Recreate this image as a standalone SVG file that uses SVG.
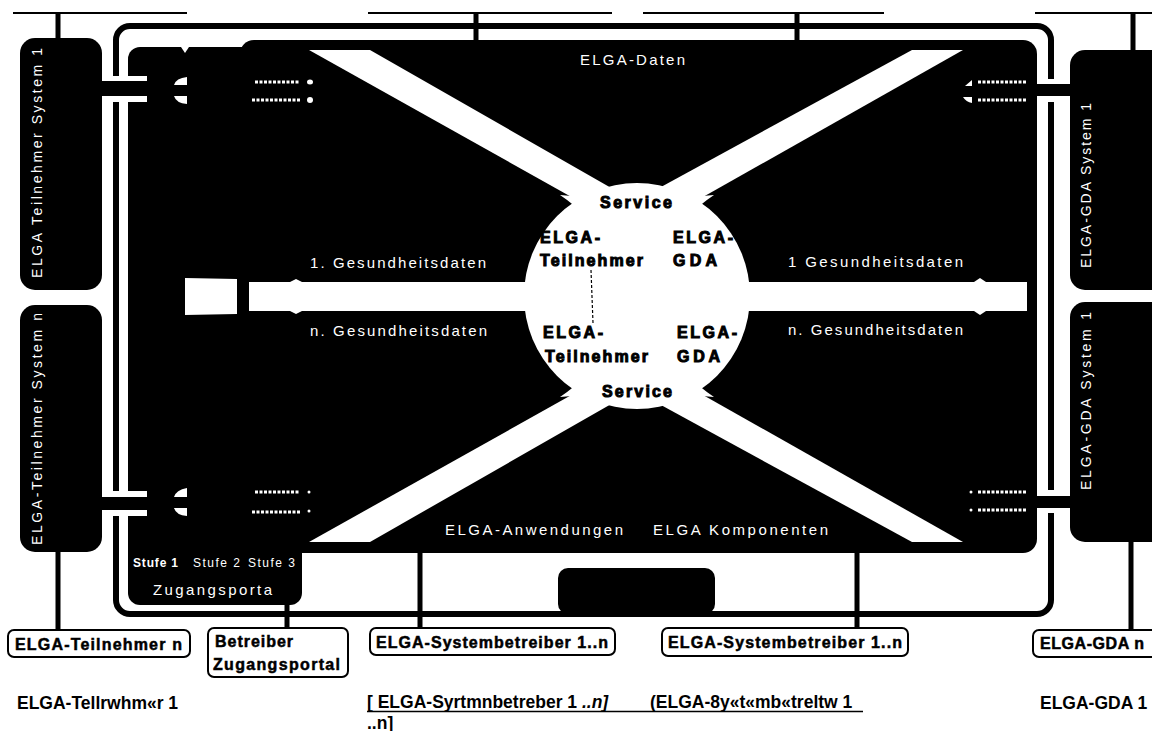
<svg xmlns="http://www.w3.org/2000/svg" width="1152" height="731" viewBox="0 0 1152 731">
<style>
.blk{fill:#000}
.wht{fill:#fff}
.lt{font-family:"Liberation Sans",Arial,sans-serif;font-size:15px;fill:#fff}
.rt{font-family:"Liberation Sans",Arial,sans-serif;font-size:14px;fill:#fff}
.st{font-family:"Liberation Sans",Arial,sans-serif;font-size:12px;fill:#fff}
.ct{font-family:"Liberation Sans",Arial,sans-serif;font-size:16px;font-weight:bold;fill:#000;stroke:#000;stroke-width:1}
.bx{fill:#fff;stroke:#000;stroke-width:2}
.bt{font-family:"Liberation Sans",Arial,sans-serif;font-size:16px;font-weight:bold;fill:#000;stroke:#000;stroke-width:0.5}
.ocr{font-family:"Liberation Sans",Arial,sans-serif;font-size:17.5px;font-weight:bold;fill:#000}
.scr{stroke:#fff;stroke-width:3;stroke-dasharray:3 1.5;fill:none}
</style>
<rect width="1152" height="731" fill="#fff"/>

<g id="frame">
<rect x="116" y="26" width="935" height="588" rx="14" fill="none" stroke="#000" stroke-width="6"/>
</g>

<g id="elga-core">
<rect class="blk" x="128" y="47" width="174" height="558" rx="12"/>
<rect class="blk" x="240" y="40" width="797" height="513" rx="14"/>
<path class="wht" d="M181,47 L189,47 L185,53 Z"/>
<g class="wht">
<circle cx="637" cy="296" r="113"/>
<polygon points="309,50 370,50 620,193 600,213"/>
<polygon points="912,50 963,50 680,210 650,193"/>
<polygon points="309,542 370,542 620,399 600,379"/>
<polygon points="912,542 963,542 680,382 650,399"/>
<path d="M560,195 Q590,215 600,240 L620,200 Z"/>
<path d="M714,195 Q684,215 674,240 L654,200 Z"/>
<path d="M560,397 Q590,377 600,352 L620,392 Z"/>
<path d="M714,397 Q684,377 674,352 L654,392 Z"/>
<rect x="249" y="282" width="778" height="29"/>
<polygon points="185,278 237,279 237,314 185,315"/>
<polygon points="290,282 296,279 302,282"/>
<polygon points="290,311 296,314 302,311"/>
<polygon points="974,282 980,278 986,282"/>
<polygon points="974,311 980,315 986,311"/>
</g>
<line x1="591" y1="270" x2="593" y2="323" stroke="#000" stroke-width="1.2" stroke-dasharray="3 2"/>
<text class="lt" x="580" y="65" textLength="105">ELGA-Daten</text>
<text class="lt" x="310" y="268" textLength="176">1. Gesundheitsdaten</text>
<text class="lt" x="310" y="336" textLength="177">n. Gesundheitsdaten</text>
<text class="lt" x="788" y="267" textLength="175">1 Gesundheitsdaten</text>
<text class="lt" x="788" y="335" textLength="175">n. Gesundheitsdaten</text>
<text class="lt" x="445" y="535" textLength="178">ELGA-Anwendungen</text>
<text class="lt" x="653" y="535" textLength="175">ELGA Komponenten</text>
<text class="st" y="567"><tspan x="133" font-weight="bold" textLength="45">Stufe 1</tspan><tspan x="193" textLength="47">Stufe 2</tspan><tspan x="248" textLength="47">Stufe 3</tspan></text>
<text class="lt" x="153" y="595" textLength="119">Zugangsporta</text>
<text class="ct" x="600" y="208" textLength="72">Service</text>
<text class="ct" x="540" y="243" textLength="60">ELGA-</text>
<text class="ct" x="540" y="266" textLength="103">Teilnehmer</text>
<text class="ct" x="673" y="243" textLength="60">ELGA-</text>
<text class="ct" x="673" y="266" textLength="44">GDA</text>
<text class="ct" x="543" y="338" textLength="60">ELGA-</text>
<text class="ct" x="545" y="362" textLength="103">Teilnehmer</text>
<text class="ct" x="677" y="338" textLength="60">ELGA-</text>
<text class="ct" x="677" y="362" textLength="43">GDA</text>
<text class="ct" x="602" y="397" textLength="70">Service</text>
<g class="wht">
<path d="M174,85 Q176,78 187,77 L187,85 Z"/>
<path d="M174,96 L187,96 L187,104 Q176,103 174,96 Z"/>
<path d="M174,497 Q176,490 187,488 L187,497 Z"/>
<path d="M174,508 L187,508 L187,516 Q176,515 174,508 Z"/>
<path d="M965,86 L972,80 L972,86 Z"/>
<path d="M963,97 L972,97 L972,103 Q966,102 963,97 Z"/>
<ellipse cx="310" cy="82" rx="3" ry="2.5"/>
<ellipse cx="310" cy="100" rx="3" ry="3"/>
<ellipse cx="309" cy="492" rx="1.5" ry="1.5"/>
<ellipse cx="309" cy="511" rx="1.5" ry="1.5"/>
<ellipse cx="971" cy="492" rx="1.5" ry="1.5"/>
<ellipse cx="971" cy="510" rx="1.5" ry="1.5"/>
</g>
<path class="scr" d="M255,82H300M252,100H300M255,492H300M252,512H300M978,82H1027M978,100H1027M978,492H1027M978,510H1027"/>
</g>

<g id="node-tn-system-1">
<rect class="blk" x="20" y="38" width="82" height="252" rx="15"/>
<text class="rt" transform="translate(42,278) rotate(-90)" x="0" y="0" textLength="230">ELGA Teilnehmer System 1</text>
</g>
<g id="node-tn-system-n">
<rect class="blk" x="20" y="305" width="82" height="247" rx="15"/>
<text class="rt" transform="translate(42,545) rotate(-90)" x="0" y="0" textLength="232">ELGA-Teilnehmer System n</text>
</g>
<g id="node-gda-system-1">
<rect class="blk" x="1070" y="50" width="100" height="240" rx="15"/>
<text class="rt" transform="translate(1091,268) rotate(-90)" x="0" y="0" textLength="165">ELGA-GDA System 1</text>
</g>
<g id="node-gda-system-2">
<rect class="blk" x="1070" y="302" width="100" height="240" rx="15"/>
<text class="rt" transform="translate(1091,490) rotate(-90)" x="0" y="0" textLength="178">ELGA-GDA System 1</text>
</g>
<g id="node-small-block">
<rect class="blk" x="558" y="568" width="157" height="46" rx="10"/>
</g>

<g id="connectors">
<path d="M13,13H187M368,13H612M643,13H884M1035,13H1152" stroke="#000" stroke-width="2" fill="none"/>
<path d="M58,13V38M476,13V40M797,13V40M1133,13V50" stroke="#000" stroke-width="5" fill="none"/>
<path d="M58,552V630M287,605V628M420,553V628M857,553V628M1131,542V630" stroke="#000" stroke-width="5" fill="none"/>
<rect class="wht" x="102" y="76" width="45" height="26"/>
<rect class="blk" x="100" y="81" width="47" height="15"/>
<rect class="wht" x="102" y="491" width="45" height="25"/>
<rect class="blk" x="100" y="497" width="47" height="13"/>
<rect class="wht" x="1037" y="79" width="33" height="23"/>
<rect class="blk" x="1037" y="84" width="35" height="12"/>
<rect class="wht" x="1037" y="490" width="33" height="23"/>
<rect class="blk" x="1037" y="496" width="35" height="12"/>
</g>

<g id="box-tn-n">
<rect class="bx" x="8" y="630" width="182" height="27" rx="6"/>
<text class="bt" x="15" y="650" textLength="167">ELGA-Teilnehmer n</text>
</g>
<g id="box-betreiber">
<rect class="bx" x="208" y="628" width="140" height="49" rx="6"/>
<text class="bt" x="215" y="647" textLength="78">Betreiber</text>
<text class="bt" x="213" y="670" textLength="127">Zugangsportal</text>
</g>
<g id="box-sysbetreiber-1">
<rect class="bx" x="370" y="628" width="245" height="27" rx="6"/>
<text class="bt" x="376" y="648" textLength="232">ELGA-Systembetreiber 1..n</text>
</g>
<g id="box-sysbetreiber-2">
<rect class="bx" x="662" y="628" width="246" height="28" rx="6"/>
<text class="bt" x="668" y="648" textLength="234">ELGA-Systembetreiber 1..n</text>
</g>
<g id="box-gda-n">
<rect class="bx" x="1033" y="630" width="130" height="27" rx="6"/>
<text class="bt" x="1040" y="649" textLength="104">ELGA-GDA n</text>
</g>

<g id="bottom-labels">
<text class="ocr" x="17" y="709">ELGA-Tellrwhm«r 1</text>
<text class="ocr" x="367" y="708">[ ELGA-Syrtmnbetreber 1 <tspan font-style="italic">..n]</tspan></text>
<text class="ocr" x="650" y="708">(ELGA-8y«t«mb«treltw 1</text>
<line x1="367" y1="711.5" x2="863" y2="711.5" stroke="#000" stroke-width="1.5"/>
<text class="ocr" x="367" y="729">..n]</text>
<text class="ocr" x="1040" y="709">ELGA-GDA 1</text>
</g>
</svg>
